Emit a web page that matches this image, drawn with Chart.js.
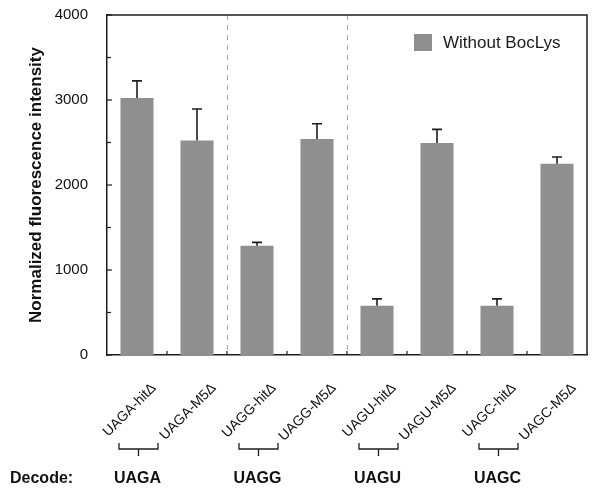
<!DOCTYPE html>
<html>
<head>
<meta charset="utf-8">
<script src="https://cdn.jsdelivr.net/npm/chart.js@4.4.1/dist/chart.umd.min.js"></script>
<style>
  html, body { margin: 0; padding: 0; background: #fff; }
  #wrap { width: 596px; height: 489px; position: relative; }
</style>
</head>
<body>
<div id="wrap"><canvas id="chart"></canvas></div>
<script>
const labels = ["UAGA-hitΔ", "UAGA-M5Δ", "UAGG-hitΔ", "UAGG-M5Δ", "UAGU-hitΔ", "UAGU-M5Δ", "UAGC-hitΔ", "UAGC-M5Δ"]
const values = [3025, 2525, 1285, 2540, 580, 2495, 580, 2250]
const errors = [200, 370, 40, 180, 80, 160, 80, 80]
const yTicks = [0, 1000, 2000, 3000, 4000]
const decodeLabels = ["UAGA", "UAGG", "UAGU", "UAGC"]
const decodeBars = [0, 2, 4, 6]      // bar each "Decode" bracket sits under
const separatorsAfter = [1, 3]       // dashed line after these bars

const FONT = "'Liberation Sans', Arial, Helvetica, sans-serif"
const BAR = "#8f8f8f"
const INK = "#1e1e1e"

// error bars, dashed separators, inward ticks, frame, legend, decode row
const decor = {
  id: "decor",
  beforeDatasetsDraw(chart) {
    const { ctx, chartArea: a, scales: { x } } = chart
    ctx.save()
    ctx.strokeStyle = "#a8a8a8"
    ctx.lineWidth = 1
    ctx.setLineDash([5, 5])
    separatorsAfter.forEach(i => {
      const px = Math.round((x.getPixelForValue(i) + x.getPixelForValue(i + 1)) / 2) + 0.5
      ctx.beginPath()
      ctx.moveTo(px, a.top)
      ctx.lineTo(px, a.bottom)
      ctx.stroke()
    })
    ctx.restore()
  },
  afterDatasetsDraw(chart) {
    const { ctx, chartArea: a, scales: { x, y } } = chart
    ctx.save()

    // error bars (upper only)
    ctx.strokeStyle = INK
    ctx.lineWidth = 1.6
    values.forEach((v, i) => {
      const px = x.getPixelForValue(i)
      const y0 = y.getPixelForValue(v)
      const y1 = y.getPixelForValue(v + errors[i])
      ctx.beginPath()
      ctx.moveTo(px, y0)
      ctx.lineTo(px, y1)
      ctx.moveTo(px - 5, y1)
      ctx.lineTo(px + 5, y1)
      ctx.stroke()
    })

    // frame top and right
    ctx.lineWidth = 1.5
    ctx.beginPath()
    ctx.moveTo(a.left, a.top)
    ctx.lineTo(a.right, a.top)
    ctx.lineTo(a.right, a.bottom)
    ctx.stroke()

    // inward ticks on y axis
    ctx.lineWidth = 1.2
    y.ticks.forEach(t => {
      const py = y.getPixelForValue(t.value)
      const len = yTicks.includes(t.value) ? 5 : 4
      ctx.beginPath()
      ctx.moveTo(a.left, py)
      ctx.lineTo(a.left + len, py)
      ctx.stroke()
    })

    // inward ticks on x axis, at category boundaries
    for (let i = 0; i < labels.length - 1; i++) {
      const px = (x.getPixelForValue(i) + x.getPixelForValue(i + 1)) / 2
      ctx.beginPath()
      ctx.moveTo(px, a.bottom)
      ctx.lineTo(px, a.bottom - 4)
      ctx.stroke()
    }

    // legend
    const ds = chart.data.datasets[0]
    ctx.fillStyle = ds.backgroundColor
    ctx.fillRect(a.right - 173, a.top + 19, 18, 17)
    ctx.fillStyle = "#1a1a1a"
    ctx.font = `17px ${FONT}`
    ctx.textBaseline = "middle"
    ctx.textAlign = "left"
    ctx.fillText(ds.label, a.right - 144, a.top + 28)

    ctx.restore()
  },
  afterDraw(chart) {
    const { ctx, scales: { x } } = chart
    ctx.save()
    ctx.strokeStyle = INK
    ctx.lineWidth = 1.3
    ctx.fillStyle = "#111"
    ctx.font = `bold 16px ${FONT}`
    ctx.textBaseline = "alphabetic"
    ctx.textAlign = "left"
    ctx.fillText("Decode:", 10, 483)
    ctx.textAlign = "center"
    decodeBars.forEach((b, k) => {
      const cx = x.getPixelForValue(b) + 1.5
      ctx.beginPath()
      ctx.moveTo(cx - 19.5, 443)
      ctx.lineTo(cx - 19.5, 449)
      ctx.lineTo(cx + 19.5, 449)
      ctx.lineTo(cx + 19.5, 443)
      ctx.moveTo(cx, 449)
      ctx.lineTo(cx, 456)
      ctx.stroke()
      ctx.fillText(decodeLabels[k], cx - 1, 483)
    })
    ctx.restore()
  }
}

new Chart(document.getElementById("chart"), {
  type: "bar",
  data: {
    labels: labels,
    datasets: [{
      label: "Without BocLys",
      data: values,
      backgroundColor: BAR,
      borderWidth: 0,
      barPercentage: 0.55,
      categoryPercentage: 1
    }]
  },
  options: {
    animation: false,
    responsive: true,
    maintainAspectRatio: false,
    devicePixelRatio: 1,
    layout: { padding: { top: 15, right: 9, left: 0, bottom: 0 } },
    plugins: {
      legend: { display: false },
      tooltip: { enabled: false }
    },
    scales: {
      x: {
        grid: { display: false },
        border: { display: true, color: INK, width: 1.5 },
        ticks: {
          maxRotation: 45,
          minRotation: 45,
          autoSkip: false,
          padding: 17,
          labelOffset: 17,
          color: "#111",
          font: { family: FONT, size: 14 }
        },
        afterFit: s => {
          s.height = 134
          s.paddingLeft = 0
          s.paddingRight = 0
        }
      },
      y: {
        min: 0,
        max: 4000,
        grid: { display: false },
        border: { display: true, color: INK, width: 1.5 },
        ticks: {
          stepSize: 500,
          padding: 11,
          color: "#111",
          font: { family: FONT, size: 15 },
          callback: v => yTicks.includes(v) ? String(v) : ""
        },
        title: {
          display: true,
          text: "Normalized fluorescence intensity",
          color: "#111",
          font: { family: FONT, size: 17, weight: "bold" },
          padding: { top: 26, bottom: 0 }
        },
        afterFit: s => {
          s.width = 107
          s.paddingTop = 0
          s.paddingBottom = 0
        }
      }
    }
  },
  plugins: [decor]
})
</script>
</body>
</html>
